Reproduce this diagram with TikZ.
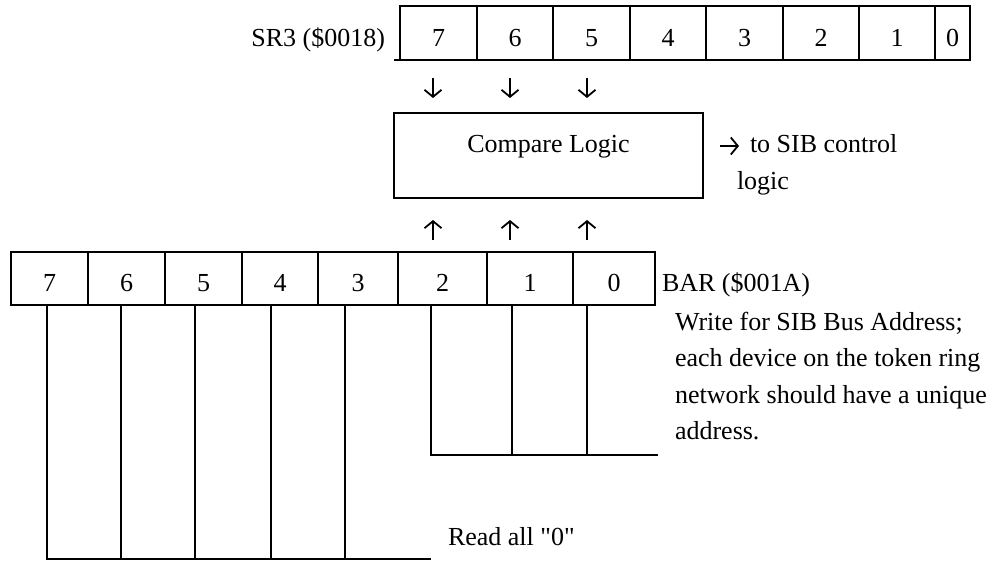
\documentclass[tikz,border=0pt]{standalone}
\usepackage{fontspec}
\setmainfont{Liberation Serif}[Ligatures=TeXOff]
\usetikzlibrary{arrows.meta}
\begin{document}
\begin{tikzpicture}[x=1pt,y=-1pt,
  every node/.style={font=\fontsize{26}{36}\selectfont, inner sep=0pt, outer sep=0pt},
  cell/.style={draw, line width=2pt, minimum height=54pt, text height=27pt, text depth=0pt},
  bcell/.style={draw, line width=2pt, minimum height=53pt, text height=27pt, text depth=0pt},
  cmpbox/.style={draw, line width=2.5pt, minimum width=309pt, minimum height=85pt, text height=8pt, text depth=13pt},
  wire/.style={line width=2pt},
  sarrow/.style={line width=1.8pt, -{Straight Barb[length=7pt,width=17pt]}},
  lbl/.style={anchor=base west, align=left}]
\useasboundingbox (0,0) rectangle (994,561);

% SR3 register
\node[cell, minimum width=77pt] (s7) at (438.5,33) {7};
\node[cell, minimum width=76pt] (s6) at (515,33) {6};
\node[cell, minimum width=77pt] (s5) at (591.5,33) {5};
\node[cell, minimum width=76pt] (s4) at (668,33) {4};
\node[cell, minimum width=77pt] (s3) at (744.5,33) {3};
\node[cell, minimum width=76pt] (s2) at (821,33) {2};
\node[cell, minimum width=76pt] (s1) at (897,33) {1};
\node[cell, minimum width=35pt] (s0) at (952.5,33) {0};
\node[anchor=base east] (sr3) at (385,47) {SR3 (\$0018)};
\coordinate (sbl) at (394,60);
\draw[wire] (sbl) -- (s7.south west);

% Compare logic
\node[cmpbox] (cmp) at (548.5,155.5) {Compare Logic};

% down arrows
\coordinate (d7a) at (433,78); \coordinate (d7b) at (433,98);
\coordinate (d6a) at (510,78); \coordinate (d6b) at (510,98);
\coordinate (d5a) at (587,78); \coordinate (d5b) at (587,98);
\draw[sarrow] (d7a) -- (d7b);
\draw[sarrow] (d6a) -- (d6b);
\draw[sarrow] (d5a) -- (d5b);

% up arrows
\coordinate (u2a) at (433,240); \coordinate (u2b) at (433,220);
\coordinate (u1a) at (510,240); \coordinate (u1b) at (510,220);
\coordinate (u0a) at (587,240); \coordinate (u0b) at (587,220);
\draw[sarrow] (u2a) -- (u2b);
\draw[sarrow] (u1a) -- (u1b);
\draw[sarrow] (u0a) -- (u0b);

% to SIB control logic
\coordinate (ra) at (720,146); \coordinate (rb) at (739,146);
\draw[sarrow] (ra) -- (rb);
\node[lbl] (sib1) at (750,153) {to SIB control};
\node[lbl] (sib2) at (737,190) {logic};

% BAR register
\node[bcell, minimum width=77pt] (b7) at (49.5,278.5) {7};
\node[bcell, minimum width=77pt] (b6) at (126.5,278.5) {6};
\node[bcell, minimum width=77pt] (b5) at (203.5,278.5) {5};
\node[bcell, minimum width=76pt] (b4) at (280,278.5) {4};
\node[bcell, minimum width=80pt] (b3) at (358,278.5) {3};
\node[bcell, minimum width=89pt] (b2) at (442.5,278.5) {2};
\node[bcell, minimum width=86pt] (b1) at (530,278.5) {1};
\node[bcell, minimum width=82pt] (b0) at (614,278.5) {0};
\node[lbl] (bar) at (662,292) {BAR (\$001A)};

% lines for bits 7..3
\coordinate (v7t) at (47,305);  \coordinate (v7b) at (47,559);
\coordinate (v6t) at (121,305); \coordinate (v6b) at (121,559);
\coordinate (v5t) at (195,305); \coordinate (v5b) at (195,559);
\coordinate (v4t) at (271,305); \coordinate (v4b) at (271,559);
\coordinate (v3t) at (345,305); \coordinate (v3b) at (345,559);
\coordinate (rend) at (431,559);
\draw[wire] (v7t) -- (v7b) -- (rend);
\draw[wire] (v6t) -- (v6b);
\draw[wire] (v5t) -- (v5b);
\draw[wire] (v4t) -- (v4b);
\draw[wire] (v3t) -- (v3b);
\node[lbl] (readall) at (448,545) {Read all "0"};

% lines for bits 2..0
\coordinate (v2t) at (431,305); \coordinate (v2b) at (431,455);
\coordinate (v1t) at (512,305); \coordinate (v1b) at (512,455);
\coordinate (v0t) at (587,305); \coordinate (v0b) at (587,455);
\coordinate (wend) at (658,455);
\draw[wire] (v2t) -- (v2b) -- (wend);
\draw[wire] (v1t) -- (v1b);
\draw[wire] (v0t) -- (v0b);
\node[lbl] (w1) at (675,331) {Write for SIB Bus Address;};
\node[lbl] (w2) at (675,367) {each device on the token ring};
\node[lbl] (w3) at (675,403) {network should have a unique};
\node[lbl] (w4) at (675,439) {address.};
\end{tikzpicture}
\end{document}
